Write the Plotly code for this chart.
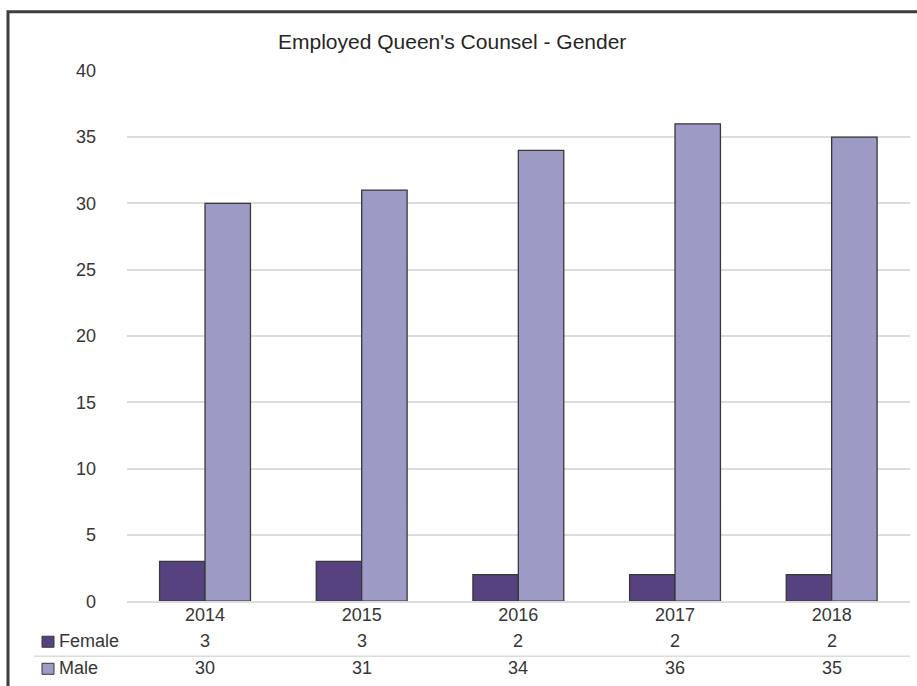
import plotly.graph_objects as go

# Employed Queen's Counsel by gender, 2014-2018
years = ["2014", "2015", "2016", "2017", "2018"]
female = [3, 3, 2, 2, 2]
male = [30, 31, 34, 36, 35]
series_names = ["Female", "Male"]
y_ticks = [0, 5, 10, 15, 20, 25, 30, 35, 40]

W, H = 917, 686
FONT = "Liberation Sans, Arial, sans-serif"
TEXT = "#363636"
FEMALE_COL = "#55427f"
MALE_COL = "#9d9bc6"
EDGE = "#383838"
GRID = "#dcdcdc"

# vertical placement: page offset and scale of the rendered paper
Y_OFF, Y_SCALE = 9.3, 0.970

# plot area in pixels
PX_L, PX_R = 126.7, 910
PY_T, PY_B = 70, 600


def fx(px):
    return px / W


def fy(py):
    return 1 - ((py - Y_OFF) / Y_SCALE) / H


fig = go.Figure()
for name, vals, col in [(series_names[0], female, FEMALE_COL), (series_names[1], male, MALE_COL)]:
    fig.add_trace(go.Bar(
        x=years, y=vals, name=name,
        marker=dict(color=col, line=dict(color=EDGE, width=1.3)),
        hoverinfo="x+y+name",
    ))

# data table under the axis
ROW_Y = {"Female": 640, "Male": 667}
annotations = []
for name, vals in [(series_names[0], female), (series_names[1], male)]:
    for i, v in enumerate(vals):
        annotations.append(dict(
            x=i, xref="x", y=fy(ROW_Y[name]), yref="paper",
            text=str(v), showarrow=False, xanchor="center", yanchor="middle",
            font=dict(family=FONT, size=18, color=TEXT),
        ))
    annotations.append(dict(
        x=fx(57), xref="paper", y=fy(ROW_Y[name]), yref="paper",
        text=name, showarrow=False, xanchor="left", yanchor="middle",
        font=dict(family=FONT, size=18, color=TEXT),
    ))

# chart title
annotations.append(dict(
    x=fx(452), xref="paper", y=fy(41), yref="paper",
    text="Employed Queen's Counsel - Gender", showarrow=False,
    xanchor="center", yanchor="middle",
    font=dict(family=FONT, size=21, color="#262626"),
))

shapes = [
    # outer frame (left and top edges visible)
    dict(type="rect", xref="paper", yref="paper",
         x0=fx(8), x1=1.02, y0=-0.02, y1=fy(11),
         line=dict(color="#3c3c3c", width=3), fillcolor="rgba(0,0,0,0)", layer="above"),
    # table row separator
    dict(type="line", xref="paper", yref="paper",
         x0=fx(34), x1=fx(PX_R), y0=fy(655), y1=fy(655),
         line=dict(color=GRID, width=1.5)),
    # legend keys
    dict(type="rect", xref="paper", yref="paper",
         x0=fx(42), x1=fx(54), y0=fy(646), y1=fy(635),
         fillcolor=FEMALE_COL, line=dict(color=EDGE, width=1)),
    dict(type="rect", xref="paper", yref="paper",
         x0=fx(42), x1=fx(54), y0=fy(673), y1=fy(662),
         fillcolor=MALE_COL, line=dict(color=EDGE, width=1)),
]

fig.update_layout(
    width=W, height=H,
    autosize=False,
    margin=dict(l=0, r=0, t=0, b=0, pad=0),
    paper_bgcolor="white", plot_bgcolor="white",
    barmode="group", bargap=0.42, bargroupgap=0,
    showlegend=False,
    annotations=annotations,
    shapes=shapes,
    font=dict(family=FONT, size=18, color=TEXT),
    xaxis=dict(
        type="category", categoryorder="array", categoryarray=years,
        range=[-0.5, len(years) - 0.5],
        domain=[fx(PX_L), fx(PX_R)],
        showgrid=False, showline=True, linecolor=GRID, linewidth=1.5,
        ticks="", tickfont=dict(family=FONT, size=18, color=TEXT),
        ticklabelstandoff=-4,
    ),
    yaxis=dict(
        domain=[fy(PY_B), fy(PY_T)],
        range=[0, 40], tickvals=y_ticks,
        showgrid=True, gridcolor=GRID, gridwidth=1.5,
        zeroline=False, showline=False,
        ticks="outside", ticklen=26, tickcolor="rgba(0,0,0,0)",
        tickfont=dict(family=FONT, size=18, color=TEXT),
    ),
)

fig.write_html("out.html")
